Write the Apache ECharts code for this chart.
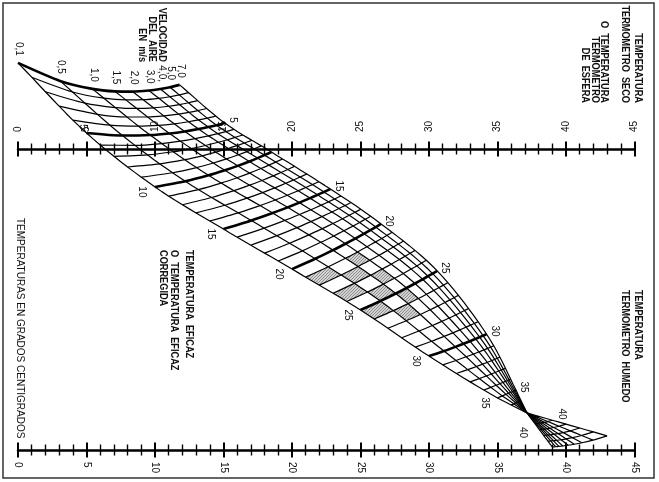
<!DOCTYPE html>
<html><head><meta charset="utf-8">
<script src="https://cdn.jsdelivr.net/npm/echarts@6/dist/echarts.min.js"></script>
<style>html,body{margin:0;padding:0;background:#fff}#c{width:659px;height:482px}</style>
</head><body><div id="c"></div>
<script>
// ---------------- data ----------------
// dry bulb (top) and wet bulb (bottom) scales, °C
const scaleTicks = [0,5,10,15,20,25,30,35,40,45];
// air velocity lines, m/s
const velocities = ['0,1','0,5','1,0','1,5','2,0','3,0','4,0,','5,0','7,0'];
// relative position of each velocity line along an effective-temperature line
const velFrac = [0,0.26,0.46,0.60,0.71,0.81,0.88,0.94,1];
// effective temperature key lines (°C) and their end nodes
// x in °C of the dry/wet bulb scale, y in % of the distance top scale -> bottom scale
const etKeys    = [0,5,10,15,20,25,30,35,37.15,43];
const lowEdgeX  = [0,5,10,15,20,25,30,35,37.15,43];          // 0,1 m/s node
const lowEdgeY  = [-28.6,-5.3,12.6,26.6,39.9,53.5,68.8,82.7,87.7,95.3];
const highEdgeX = [11.8,15.1,18.5,22.8,26.5,30.6,34.2,36.35,37.15,39.0]; // 7,0 m/s node
const highEdgeY = [-21.3,-8.6,1.0,13.3,24.9,40.5,61.5,80.1,87.7,99.0];
const etSag     = [5.3,2.2,1.5,0.8,0.6,0.5,0.3,0,0,0.6];
const boldET = [0,5,10,15,20,25,30];
const lowLabels = [5,10,15,20,25,30,35];
const highLabels = [5,15,20,25,30,35];
const fanLabels = [40];
const shadedCells = [[21,0],[23,0],[25,0],[22,1],[24,1],[26,1],[21,2],[23,2],[25,2]];
const ET_MAX = 43;

// ---------------- nomogram geometry ----------------
function keyNode(k, j) {
  const f = velFrac[j];
  return [lowEdgeX[k] + (highEdgeX[k] - lowEdgeX[k]) * f,
          lowEdgeY[k] + (highEdgeY[k] - lowEdgeY[k]) * f + etSag[k] * 4 * f * (1 - f)];
}
function tangent(k, j) {
  const P = keyNode(k, j);
  if (k === 0) { const N = keyNode(1, j), d = etKeys[1] - etKeys[0]; return [(N[0]-P[0])/d, (N[1]-P[1])/d]; }
  const A = keyNode(k-1, j), B = keyNode(k+1, j);
  const da = etKeys[k] - etKeys[k-1], db = etKeys[k+1] - etKeys[k];
  return [((P[0]-A[0])/da + (B[0]-P[0])/db)/2, ((P[1]-A[1])/da + (B[1]-P[1])/db)/2];
}
function nodeAt(e, j) {
  let k = 0;
  while (k < etKeys.length - 2 && e > etKeys[k+1]) k++;
  const t0 = etKeys[k], t1 = etKeys[k+1], h = t1 - t0;
  const P0 = keyNode(k, j), P1 = keyNode(k+1, j);
  const s = Math.max(0, Math.min(1, (e - t0) / h));
  if (t0 >= 35) return [P0[0] + (P1[0]-P0[0])*s, P0[1] + (P1[1]-P0[1])*s];
  const m0 = tangent(k, j), m1 = tangent(k+1, j);
  const h00 = 2*s*s*s - 3*s*s + 1, h10 = s*s*s - 2*s*s + s, h01 = -2*s*s*s + 3*s*s, h11 = s*s*s - s*s;
  return [0,1].map(i => h00*P0[i] + h10*h*m0[i] + h01*P1[i] + h11*h*m1[i]);
}

// stipple pattern for the shaded cells
const pc = document.createElement('canvas'); pc.width = 3; pc.height = 3;
const g = pc.getContext('2d'); g.fillStyle = '#d2d2d2'; g.fillRect(0,0,3,3);
g.fillStyle = '#8f8f8f'; g.fillRect(0,0,1,1); g.fillRect(2,1,1,1); g.fillRect(1,2,1,1);

const series = [];
series.push({
  type: 'custom', coordinateSystem: 'cartesian2d', clip: false, silent: true, z: 1,
  data: shadedCells,
  renderItem: function (p, api) {
    const k = api.value(0), j = api.value(1);
    const pts = [nodeAt(k,j), nodeAt(k,j+1), nodeAt(k+1,j+1), nodeAt(k+1,j)].map(q => api.coord(q));
    return { type: 'polygon', shape: { points: pts }, style: { fill: { image: pc, repeat: 'repeat' }, stroke: null } };
  }
});
// velocity lines
const samples = [];
for (let e = 0; e <= ET_MAX + 1e-9; e += 0.5) samples.push(e);
samples.push(37.15); samples.sort((a,b)=>a-b);
velocities.forEach((v, j) => {
  series.push({
    type: 'line', clip: false, silent: true, showSymbol: false, symbol: 'none', z: 3,
    data: samples.map(e => nodeAt(e, j)),
    lineStyle: { color: '#000', width: 1.2 }
  });
});
// effective temperature lines
for (let e = 0; e <= ET_MAX; e++) {
  const bold = boldET.includes(e);
  series.push({
    type: 'line', clip: false, silent: true, showSymbol: false, symbol: 'none', z: bold ? 4 : 3,
    smooth: 0.25,
    data: velocities.map((v, j) => nodeAt(e, j)),
    lineStyle: { color: '#000', width: bold ? 2.6 : 1.2 }
  });
}

const axisFont = { fontFamily: 'Liberation Sans', fontSize: 10, color: '#111' };
function scaleAxis(pos, inside, labels) {
  return {
    type: 'value', position: pos, min: 0, max: 45, interval: 5, gridIndex: 0,
    axisLine: { show: !inside, onZero: false, lineStyle: { color: '#000', width: 2.5 } },
    axisTick: { show: true, inside: inside, length: 7.5, lineStyle: { color: '#000', width: 2 } },
    minorTick: { show: true, splitNumber: 5, length: 5.5, lineStyle: { color: '#000', width: 1.4 } },
    splitLine: { show: false }, minorSplitLine: { show: false },
    axisLabel: labels ? Object.assign({ show: true, rotate: -90, margin: pos === 'top' ? 17 : 12,
      formatter: v => scaleTicks.includes(v) ? String(v) : '' }, axisFont) : { show: false }
  };
}

const chart = echarts.init(document.getElementById('c'));
chart.setOption({
  animation: false,
  backgroundColor: '#fff',
  grid: { left: 18, top: 149, width: 616.5, height: 301, containLabel: false },
  xAxis: [scaleAxis('top', false, true), scaleAxis('top', true, false),
          scaleAxis('bottom', false, true), scaleAxis('bottom', true, false)],
  yAxis: { type: 'value', min: 0, max: 100, inverse: true, show: false },
  series: series
});

// ---------------- texts ----------------
const R = -Math.PI / 2;
function txt(x, y, text, align, opts) {
  opts = opts || {};
  return { type: 'text', x: x, y: y, rotation: R, scaleX: opts.sx || 1, silent: true, z: 10,
    style: { text: text, fill: '#111', fontFamily: 'Liberation Sans', fontSize: opts.size || 10,
      fontWeight: opts.weight || 'bold', align: align, textAlign: align,
      verticalAlign: 'middle', textVerticalAlign: 'middle' } };
}
const px = q => chart.convertToPixel({ gridIndex: 0 }, q);
const elems = [];
elems.push({ type: 'rect', shape: { x: 3, y: 3, width: 651, height: 475 }, silent: true,
  style: { fill: null, stroke: '#333', lineWidth: 1.5 } });
// dry bulb block
[['TEMPERATURA',638],['TERMOMETRO  SECO',625],['O  TEMPERATURA',604],['TERMOMETRO',595],['DE  ESFERA',585]]
  .forEach(t => elems.push(txt(t[1], 103, t[0], 'right', { sx: 0.92 })));
// wet bulb block
[['TEMPERATURA',638],['TERMOMETRO  HUMEDO',625]]
  .forEach(t => elems.push(txt(t[1], 290, t[0], 'left', { sx: 0.92 })));
// effective temperature block
[['TEMPERATURA  EFICAZ',189],['O  TEMPERATURA  EFICAZ',174],['CORREGIDA',163]]
  .forEach(t => elems.push(txt(t[1], 250, t[0], 'left', { sx: 0.92 })));
// velocity block
[['VELOCIDAD',162],['DEL  AIRE',152],['EN  m/s',142]]
  .forEach(t => elems.push(txt(t[1], 62, t[0], 'right', { sx: 0.92 })));
elems.push(txt(20, 218, 'TEMPERATURAS EN GRADOS CENTIGRADOS', 'left', { weight: 'normal', size: 10 }));
// velocity labels at the ET 0 line
velocities.forEach((v, j) => {
  const p = px(nodeAt(0, j));
  elems.push(txt(p[0] + 1, p[1] - 7, v, 'right', { weight: 'normal', size: 10 }));
});
// ET labels on the 0,1 m/s edge
lowLabels.forEach(e => {
  const p = px(nodeAt(e, 0));
  const d = e === 5 ? [-4, -6] : [-13, 5];
  elems.push(txt(p[0] + d[0], p[1] + d[1], String(e), 'center', { weight: 'normal' }));
});
// ET labels on the 7,0 m/s edge
highLabels.forEach(e => {
  const p = px(nodeAt(e, velocities.length - 1));
  elems.push(txt(p[0] + 8, p[1] - 3, String(e), 'center', { weight: 'normal' }));
});
// labels beyond the crossing point
fanLabels.forEach(e => {
  const a = px(nodeAt(e, 0)), b = px(nodeAt(e, velocities.length - 1));
  elems.push(txt(a[0] - 4, a[1] - 10, String(e), 'center', { weight: 'normal' }));
  elems.push(txt(b[0] - 17, b[1] + 3, String(e), 'center', { weight: 'normal' }));
});
chart.setOption({ graphic: { elements: elems } });
</script></body></html>
